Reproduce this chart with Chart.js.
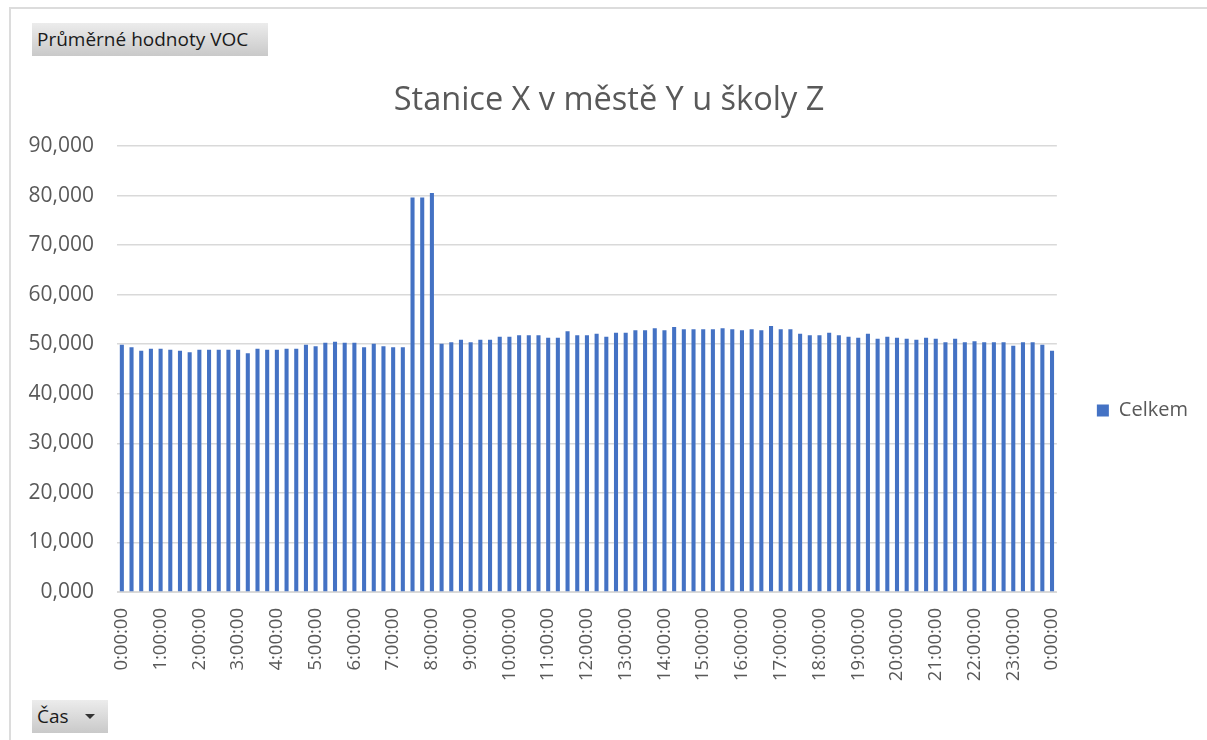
<!DOCTYPE html>
<html lang="cs">
<head>
<meta charset="utf-8">
<title>Průměrné hodnoty VOC</title>
<script src="https://cdn.jsdelivr.net/npm/chart.js@4/dist/chart.umd.min.js"></script>
<style>
  html, body { margin: 0; padding: 0; background: #fff; overflow: hidden; }
  body { width: 1207px; height: 740px; position: relative; font-family: 'Open Sans', sans-serif; }
  #frame {
    position: absolute; left: 9px; top: 7px; width: 1300px; height: 900px;
    border-left: 2px solid #dcdcdc; border-top: 2px solid #dcdcdc;
  }
  #wrap { position: absolute; left: 0; top: 0; width: 1207px; height: 740px; }
  .field-btn {
    position: absolute; box-sizing: border-box;
    background: linear-gradient(#ececec, #c9c9c9);
    color: #1a1a1a; font-size: 19px; line-height: 32px; padding-left: 5px;
    white-space: nowrap;
  }
  #btnValues { left: 32px; top: 23px; width: 236px; height: 33px; }
  #btnAxis { left: 32px; top: 700px; width: 76px; height: 33px; }
  #btnAxis .arrow {
    position: absolute; left: 53px; top: 14px; width: 0; height: 0;
    border-left: 5px solid transparent; border-right: 5px solid transparent;
    border-top: 5px solid #333;
  }
</style>
</head>
<body>
<div id="frame"></div>
<div id="wrap"><canvas id="chart" width="1207" height="740"></canvas></div>
<div class="field-btn" id="btnValues">Průměrné hodnoty VOC</div>
<div class="field-btn" id="btnAxis">Čas<span class="arrow"></span></div>
<script>
'use strict';

// hodinové popisky osy X (0:00 až 0:00 následujícího dne)
var hourLabels = ['0', '1', '2', '3', '4', '5', '6', '7', '8', '9', '10', '11',
  '12', '13', '14', '15', '16', '17', '18', '19', '20', '21', '22', '23', '0'];
var quarterLabels = [':00:00', ':15:00', ':30:00', ':45:00'];

// průměrné hodnoty VOC po 15 minutách (Celkem)
var celkem = [
  49.9, 49.4, 48.7, 49.1, 49.1, 48.9, 48.7, 48.4, 48.9, 48.9, 48.9, 48.9,
  48.9, 48.2, 49.1, 48.9, 48.9, 49.1, 49.1, 49.9, 49.6, 50.3, 50.5, 50.3,
  50.3, 49.4, 50.1, 49.6, 49.4, 49.4, 79.6, 79.6, 80.5, 50.1, 50.4, 50.9,
  50.4, 50.9, 50.9, 51.5, 51.5, 51.8, 51.8, 51.8, 51.3, 51.3, 52.6, 51.8,
  51.8, 52.1, 51.5, 52.3, 52.3, 52.8, 52.8, 53.2, 52.8, 53.5, 53.0, 53.0,
  53.0, 53.0, 53.2, 53.0, 52.8, 53.0, 52.8, 53.7, 53.0, 53.0, 52.1, 51.8,
  51.8, 52.3, 51.8, 51.5, 51.3, 52.1, 51.1, 51.5, 51.3, 51.1, 50.9, 51.3,
  51.1, 50.4, 51.1, 50.4, 50.6, 50.4, 50.4, 50.4, 49.7, 50.4, 50.4, 49.9,
  48.7
];

var seriesName = 'Celkem';
var chartTitle = 'Stanice X v městě Y u školy Z';
var yMax = 90;
var yStep = 10;

/** sestaví kategorie po čtvrthodinách */
function buildCategories() {
  var cats = [];
  for (var h = 0; h < hourLabels.length - 1; h++) {
    quarterLabels.forEach(function (q) { cats.push(hourLabels[h] + q); });
  }
  cats.push(hourLabels[hourLabels.length - 1] + quarterLabels[0]);
  return cats;
}

var categories = buildCategories();
var textColor = '#595959';
var gridColor = '#d9d9d9';

Chart.defaults.font.family = "'Open Sans', sans-serif";
Chart.defaults.color = textColor;

new Chart(document.getElementById('chart'), {
  type: 'bar',
  data: {
    labels: categories,
    datasets: [{
      label: seriesName,
      data: celkem,
      backgroundColor: '#4472c4',
      borderWidth: 0,
      barPercentage: 0.42,
      categoryPercentage: 1.0
    }]
  },
  options: {
    responsive: false,
    animation: false,
    layout: { padding: { top: 81, left: 20, right: 9, bottom: 0 } },
    plugins: {
      tooltip: { enabled: false },
      title: {
        display: true,
        text: chartTitle,
        color: textColor,
        font: { size: 32.5, weight: 'normal' },
        padding: { top: 0, bottom: 26 }
      },
      legend: {
        position: 'right',
        align: 'center',
        labels: {
          boxWidth: 12,
          boxHeight: 12,
          padding: 10,
          color: textColor,
          font: { size: 20 }
        }
      }
    },
    scales: {
      x: {
        grid: { display: false, drawTicks: false },
        border: { display: true, color: gridColor, width: 1 },
        ticks: {
          autoSkip: false,
          maxRotation: 90,
          minRotation: 90,
          padding: 16,
          color: textColor,
          font: { size: 18.5 },
          callback: function (value, index) {
            return index % 4 === 0 ? this.getLabelForValue(value) : '';
          }
        },
        afterFit: function (scale) { scale.height = 148; }
      },
      y: {
        min: 0,
        max: yMax,
        grid: { color: gridColor, lineWidth: 1.5, drawTicks: false },
        border: { display: false },
        ticks: {
          stepSize: yStep,
          padding: 23,
          color: textColor,
          font: { size: 21 },
          callback: function (value) { return value.toFixed(3).replace('.', ','); }
        },
        afterFit: function (scale) { scale.width = 97; }
      },
      gap: {
        type: 'linear',
        position: 'right',
        display: true,
        grid: { display: false, drawTicks: false },
        border: { display: false },
        ticks: { display: false },
        afterFit: function (scale) { scale.width = 30; }
      }
    }
  }
});
</script>
</body>
</html>
